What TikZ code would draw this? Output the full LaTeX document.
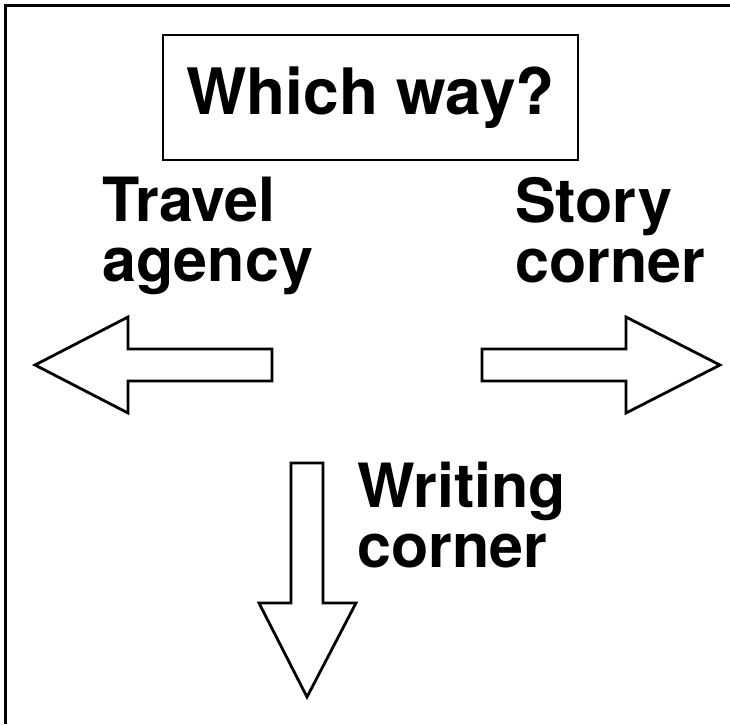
\documentclass[tikz,border=0pt]{standalone}
\usepackage{fontspec}
\setmainfont{TeX Gyre Heros}
\begin{document}
\begin{tikzpicture}[x=1pt,y=-1pt,font=\bfseries,
  waysign/.style={draw,line width=2.8pt,line join=miter},
  place/.style={anchor=north west,inner sep=0pt,align=left,
    font=\bfseries\fontsize{61}{60}\selectfont}]
\useasboundingbox (0,0) rectangle (730,724);

\draw[line width=3pt] (5,724) -- (5,5) -- (730,5);

\node[draw,line width=1.6pt,minimum width=415pt,minimum height=125pt,inner sep=0pt,
  font=\bfseries\fontsize{64}{64}\selectfont] (which) at (370.5,97.5) {Which way?};

\node[place] (travel) at (102,177) {Travel\\agency};
\node[place] (story) at (515,177) {Story\\corner};
\node[place] (writing) at (357,462) {Writing\\corner};

\coordinate (l) at (35,365);
\coordinate (r) at (720,365);
\coordinate (d) at (307,697);

\draw[waysign] (l) -- (128,317) -- (128,349) -- (272,349) -- (272,381) -- (128,381) -- (128,413) -- cycle;
\draw[waysign] (r) -- (626,317) -- (626,349) -- (482,349) -- (482,381) -- (626,381) -- (626,413) -- cycle;
\draw[waysign] (d) -- (259,603) -- (291,603) -- (291,463) -- (323,463) -- (323,603) -- (356,603) -- cycle;

\end{tikzpicture}
\end{document}
